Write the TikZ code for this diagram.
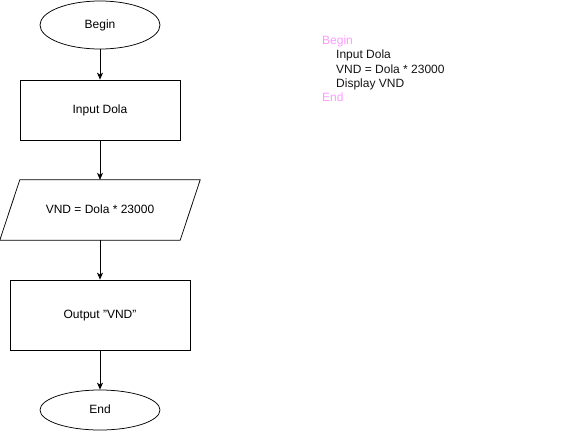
\documentclass[tikz,border=0pt]{standalone}
\usepackage{fontspec}
\setmainfont{Liberation Sans}
\usetikzlibrary{shapes.geometric,arrows.meta,calc}
\definecolor{kw}{RGB}{255,153,255}
\definecolor{txt}{RGB}{20,20,20}
\begin{document}
\begin{tikzpicture}[x=1pt,y=-1pt,
  font=\fontsize{12}{14}\selectfont,
  label text/.style={text height=8pt,text depth=1pt},
  term/.style={ellipse,draw,line width=0.75pt,inner sep=0pt,label text},
  proc/.style={rectangle,draw,line width=0.75pt,inner sep=0pt,label text},
  flow/.style={draw,line width=0.75pt,-{Stealth[length=7pt,width=6pt,inset=2pt]}},
  code/.style={anchor=base west,inner sep=0pt,font=\fontsize{12}{14}\selectfont,text=txt}]
\useasboundingbox (0,0) rectangle (582,432);
% flowchart
\node[term,minimum width=120pt,minimum height=48pt] (begin) at (100,25) {Begin};
\node[proc,minimum width=160pt,minimum height=60pt] (input) at (100,110) {Input Dola};
\node[inner sep=0pt,label text,minimum width=200pt,minimum height=60pt] (calc) at (100,210) {VND = Dola * 23000};
\draw[line width=0.75pt] ($(calc.north west)+(20,0)$) -- (calc.north east)
  -- ($(calc.south east)+(-20,0)$) -- (calc.south west) -- cycle;
\node[proc,minimum width=180pt,minimum height=70pt] (output) at (100,315) {Output "VND"};
\node[term,minimum width=120pt,minimum height=40pt] (end) at (100,410) {End};
\draw[flow] (begin) -- (input);
\draw[flow] (input) -- (calc.north);
\draw[flow] (calc.south) -- (output);
\draw[flow] (output) -- (end);
% pseudocode
\node[code,text=kw] (p1) at (322,44.5) {Begin};
\node[code] (p2) at (336,58.5) {Input Dola};
\node[code] (p3) at (336,73) {VND = Dola * 23000};
\node[code] (p4) at (336,87) {Display VND};
\node[code,text=kw] (p5) at (322,101) {End};
\end{tikzpicture}
\end{document}
